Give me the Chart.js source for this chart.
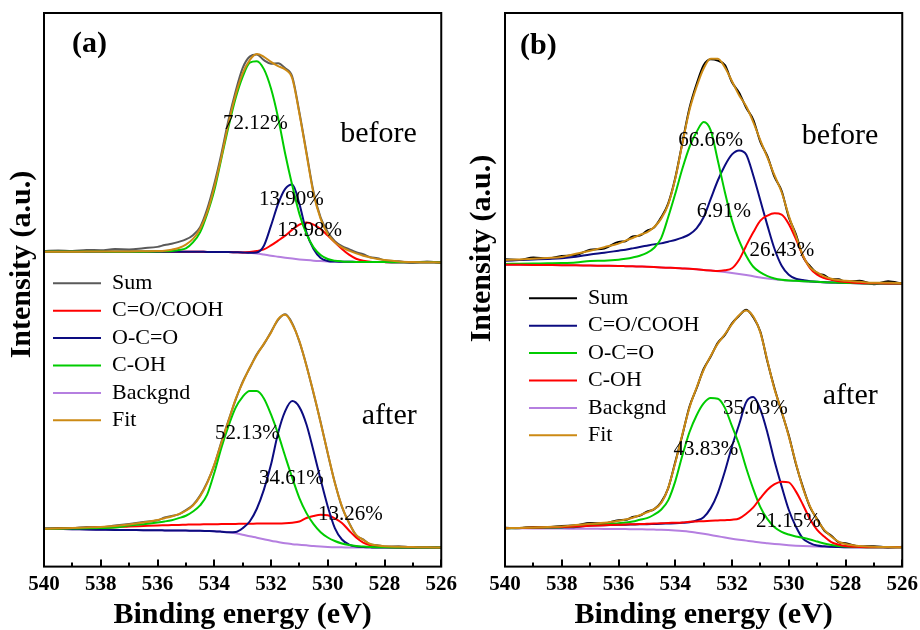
<!DOCTYPE html>
<html>
<head>
<meta charset="utf-8">
<script src="https://cdn.jsdelivr.net/npm/chart.js@4.4.1/dist/chart.umd.min.js"></script>
<style>
html,body{margin:0;padding:0;background:#fff;overflow:hidden;}
#wrap{position:relative;width:920px;height:630px;background:#fff;overflow:hidden;}
.panel{position:absolute;top:0;height:630px;}
#pa{left:0;width:464px;} #pb{left:460px;width:465px;}
</style>
</head>
<body>
<div id="wrap">
  <div class="panel" id="pa"><canvas id="ca" width="464" height="630"></canvas></div>
  <div class="panel" id="pb"><canvas id="cb" width="465" height="630"></canvas></div>
</div>
<script>
// ---------------- data (binding energy in eV, intensity in a.u.) ----------------
const energy = [540, 539.5, 539, 538.5, 538, 537.5, 537, 536.5, 536, 535.75, 535.5, 535.25, 535, 534.75, 534.5, 534.25, 534, 533.75, 533.5, 533.25, 533, 532.75, 532.5, 532.25, 532, 531.75, 531.5, 531.25, 531, 530.75, 530.5, 530.25, 530, 529.75, 529.5, 529.25, 529, 528.75, 528.5, 528.25, 528, 527.5, 527, 526.5, 526];
const xTickValues = [540, 538, 536, 534, 532, 530, 528, 526];
const seriesNames = ['Sum', 'C=O/COOH', 'O-C=O', 'C-OH', 'Backgnd', 'Fit'];

// panel (a), before
const aBeforeSum  = [38.5, 39.3, 38.8, 39.8, 39.5, 40.6, 40.3, 41.5, 42.8, 44.6, 45.9, 47.8, 50.2, 54.5, 62.5, 80.5, 105.5, 135.5, 169.0, 197.5, 221.0, 232.5, 234.5, 229.0, 225.5, 226.0, 221.0, 212.5, 177.0, 137.0, 97.5, 72.0, 57.5, 48.5, 43.5, 40.5, 37.5, 35.5, 32.5, 31.5, 29.5, 28.5, 27.0, 28.3, 27.0];
const aBeforeCOOH = [38.2, 38.2, 38.1, 38.1, 38.1, 38.0, 38.0, 38.0, 38.0, 38.0, 38.0, 37.9, 37.9, 37.9, 37.9, 37.8, 37.8, 37.7, 37.6, 37.4, 37.2, 37.7, 38.7, 40.3, 44.3, 49.0, 54.0, 60.0, 65.0, 67.0, 65.0, 60.7, 54.0, 47.3, 40.7, 35.0, 31.0, 29.0, 28.0, 27.7, 27.6, 27.5, 27.5, 27.4, 27.3];
const aBeforeOCO  = [38.2, 38.2, 38.1, 38.1, 38.1, 38.0, 38.0, 38.0, 38.0, 38.0, 38.0, 37.9, 37.9, 37.9, 37.9, 37.8, 37.8, 37.7, 37.6, 37.4, 37.2, 36.9, 37.3, 44.0, 64.0, 85.7, 100.7, 105.0, 85.7, 57.3, 40.7, 31.7, 28.7, 28.1, 28.0, 27.9, 27.8, 27.7, 27.7, 27.6, 27.6, 27.5, 27.5, 27.4, 27.3];
const aBeforeCOH  = [38.2, 38.2, 38.1, 38.1, 38.1, 38.0, 38.0, 38.0, 38.1, 38.4, 38.8, 39.7, 41.3, 47.3, 57.3, 75.7, 99.0, 130.7, 162.3, 190.7, 212.3, 226.5, 228.0, 220.0, 200.7, 171.7, 135.7, 104.0, 75.7, 55.7, 42.3, 34.7, 30.7, 29.0, 28.3, 28.0, 27.8, 27.7, 27.7, 27.6, 27.6, 27.5, 27.5, 27.4, 27.3];
const aBeforeBg   = [38.2, 38.2, 38.1, 38.1, 38.1, 38.0, 38.0, 38.0, 38.0, 38.0, 38.0, 37.9, 37.9, 37.9, 37.9, 37.8, 37.8, 37.7, 37.6, 37.4, 37.2, 36.8, 36.3, 35.2, 34.0, 33.0, 32.0, 31.1, 30.3, 29.6, 29.0, 28.6, 28.3, 28.1, 28.0, 27.9, 27.8, 27.7, 27.7, 27.6, 27.6, 27.5, 27.5, 27.4, 27.3];
const aBeforeFit  = [38.0, 38.0, 38.0, 38.1, 38.1, 38.2, 38.3, 38.5, 38.7, 39.0, 40.0, 41.7, 45.0, 50.7, 60.7, 77.3, 102.3, 132.3, 165.7, 194.0, 215.7, 229.0, 235.0, 232.3, 227.3, 223.0, 219.7, 210.7, 175.7, 135.7, 95.7, 70.7, 55.7, 47.3, 42.3, 39.0, 36.3, 34.0, 32.3, 30.7, 29.7, 28.3, 27.7, 27.5, 27.3];

// panel (a), after
const aAfterSum  = [37.9, 38.5, 38.3, 39.6, 39.2, 40.9, 42.6, 44.5, 46.2, 48.9, 50.6, 52.0, 56.4, 61.5, 70.8, 84.0, 101.0, 124.2, 145.5, 166.0, 184.2, 198.0, 211.7, 221.8, 234.0, 246.0, 251.5, 242.5, 224.3, 200.6, 172.6, 143.9, 112.8, 83.9, 59.5, 43.9, 31.2, 27.2, 22.1, 21.4, 20.0, 20.3, 19.2, 19.6, 18.8];
const aAfterCOOH = [37.7, 38.0, 38.3, 38.6, 38.9, 39.3, 40.0, 40.5, 41.0, 41.2, 41.4, 41.6, 41.8, 42.0, 42.1, 42.2, 42.3, 42.4, 42.5, 42.6, 42.7, 42.8, 42.9, 43.0, 43.0, 43.0, 43.2, 43.8, 45.0, 48.5, 50.5, 51.7, 51.3, 48.0, 43.5, 36.0, 29.0, 24.0, 21.2, 20.0, 19.5, 19.1, 19.0, 19.0, 19.0];
const aAfterOCO  = [37.7, 37.5, 37.3, 37.0, 36.8, 36.6, 36.5, 36.3, 36.2, 36.1, 36.0, 36.0, 35.9, 35.8, 35.7, 35.5, 35.3, 34.8, 34.2, 34.5, 38.3, 45.0, 57.7, 76.7, 101.7, 133.3, 155.0, 165.0, 159.0, 141.7, 115.0, 86.7, 60.0, 38.3, 27.0, 22.0, 20.0, 19.5, 19.2, 19.0, 19.0, 19.0, 19.0, 19.0, 19.0];
const aAfterCOH  = [37.7, 37.8, 38.0, 38.2, 38.5, 39.0, 41.0, 42.3, 44.0, 45.0, 46.3, 48.3, 50.7, 55.0, 61.0, 71.7, 93.3, 118.3, 140.0, 158.3, 169.3, 175.0, 175.0, 167.7, 151.7, 132.3, 110.0, 88.3, 68.3, 53.3, 42.3, 34.3, 29.0, 25.5, 23.0, 21.5, 20.5, 20.0, 19.6, 19.3, 19.2, 19.1, 19.0, 19.0, 19.0];
const aAfterBg   = [37.7, 37.5, 37.3, 37.0, 36.8, 36.6, 36.5, 36.3, 36.2, 36.1, 36.0, 36.0, 35.9, 35.8, 35.7, 35.5, 35.3, 34.8, 34.2, 33.2, 31.8, 30.2, 28.8, 27.3, 25.8, 24.5, 23.2, 22.4, 21.8, 21.2, 20.5, 20.0, 19.6, 19.3, 19.2, 19.1, 19.0, 19.0, 19.0, 19.0, 19.0, 19.0, 19.0, 19.0, 19.0];
const aAfterFit  = [37.7, 38.0, 38.5, 39.0, 39.5, 40.5, 42.0, 44.0, 46.5, 48.3, 50.0, 52.3, 55.7, 61.0, 70.0, 83.3, 101.7, 123.3, 145.0, 166.7, 183.3, 198.3, 211.0, 222.3, 233.3, 246.7, 251.0, 241.7, 225.0, 200.0, 173.3, 143.3, 113.3, 83.3, 60.0, 43.3, 31.7, 26.7, 22.5, 21.0, 20.3, 19.8, 19.5, 19.2, 19.0];

// panel (b), before
const bBeforeSum  = [30.5, 29.8, 32.3, 31.2, 33.8, 34.6, 40.0, 41.2, 47.8, 48.5, 53.2, 54.0, 58.8, 62.0, 72.0, 86.0, 111.5, 146.5, 181.0, 205.0, 224.0, 230.0, 228.5, 224.0, 207.0, 196.5, 181.5, 169.5, 147.5, 133.0, 112.5, 98.5, 72.5, 55.5, 33.0, 23.5, 16.5, 14.5, 10.5, 10.5, 8.0, 9.0, 5.5, 8.5, 6.0];
const bBeforeCOOH = [29.0, 29.6, 30.2, 30.8, 31.5, 33.0, 35.3, 37.0, 39.0, 40.0, 41.3, 42.7, 44.0, 45.3, 46.3, 48.0, 49.7, 52.0, 55.3, 61.3, 72.3, 90.7, 109.0, 124.0, 135.0, 139.0, 135.0, 114.0, 89.0, 64.0, 40.7, 24.0, 15.0, 11.0, 9.7, 8.6, 8.0, 7.6, 7.3, 7.1, 6.9, 6.5, 6.3, 6.3, 6.3];
const bBeforeOCO  = [25.8, 26.0, 26.2, 26.4, 26.6, 27.2, 28.7, 29.0, 30.0, 31.0, 32.3, 34.0, 36.7, 41.7, 51.3, 72.3, 95.7, 120.7, 142.3, 157.3, 167.3, 159.0, 129.0, 97.3, 69.0, 49.0, 34.0, 23.0, 17.3, 13.7, 11.3, 10.0, 9.3, 9.0, 8.6, 8.3, 8.0, 7.6, 7.3, 7.1, 6.9, 6.5, 6.3, 6.3, 6.3];
const bBeforeCOH  = [25.0, 24.9, 24.8, 24.7, 24.6, 24.4, 24.2, 24.0, 23.8, 23.6, 23.4, 23.2, 23.0, 22.7, 22.3, 22.0, 21.7, 21.3, 20.9, 20.4, 19.8, 19.2, 18.7, 19.5, 21.5, 30.0, 44.0, 57.3, 69.0, 74.0, 76.3, 75.0, 65.7, 50.7, 34.0, 21.7, 15.0, 11.7, 10.0, 8.5, 7.8, 6.8, 6.5, 6.3, 6.3];
const bBeforeBg   = [25.0, 24.9, 24.8, 24.7, 24.6, 24.4, 24.2, 24.0, 23.8, 23.6, 23.4, 23.2, 23.0, 22.7, 22.3, 22.0, 21.7, 21.3, 20.9, 20.4, 19.8, 19.2, 18.5, 17.7, 16.8, 15.8, 14.7, 13.5, 12.3, 11.3, 10.4, 9.7, 9.2, 8.8, 8.4, 8.1, 7.8, 7.5, 7.2, 7.0, 6.8, 6.5, 6.3, 6.3, 6.3];
const bBeforeFit  = [29.7, 30.3, 31.0, 31.8, 32.8, 36.0, 39.0, 42.5, 46.0, 49.0, 51.7, 54.7, 57.3, 62.3, 70.7, 85.0, 110.7, 145.7, 179.0, 202.3, 220.7, 230.3, 230.3, 221.7, 208.0, 194.0, 183.0, 167.3, 149.0, 131.7, 114.0, 97.3, 74.0, 54.0, 34.0, 22.3, 17.3, 13.3, 11.0, 9.7, 9.0, 8.0, 7.0, 7.0, 6.5];

// panel (b), after
const bAfterSum  = [38.8, 38.2, 39.6, 39.1, 40.6, 41.2, 43.4, 43.2, 46.3, 46.6, 49.4, 50.8, 54.8, 57.0, 64.0, 78.0, 104.2, 131.0, 159.4, 177.6, 197.0, 209.4, 223.2, 231.0, 242.5, 250.0, 256.0, 248.6, 234.2, 204.2, 177.6, 154.2, 130.9, 102.6, 79.2, 59.3, 47.5, 36.0, 30.8, 24.4, 23.2, 20.0, 20.4, 19.0, 19.8];
const bAfterCOOH = [38.3, 38.5, 38.7, 38.9, 39.1, 39.6, 41.0, 41.3, 41.7, 41.8, 42.0, 42.2, 42.3, 42.5, 42.7, 43.0, 43.3, 43.7, 44.3, 46.0, 49.3, 58.3, 73.3, 95.0, 120.0, 141.7, 164.0, 169.0, 156.7, 133.3, 105.0, 80.0, 56.7, 40.0, 28.0, 23.5, 21.0, 20.2, 19.8, 19.5, 19.4, 19.3, 19.3, 19.3, 19.3];
const bAfterOCO  = [38.3, 38.5, 38.8, 39.0, 39.3, 40.0, 41.3, 42.0, 43.3, 44.0, 45.0, 46.7, 48.3, 51.7, 56.7, 66.0, 85.0, 110.7, 134.0, 150.7, 162.7, 168.0, 167.3, 158.3, 140.0, 121.7, 98.3, 77.3, 59.3, 47.3, 39.3, 34.7, 32.0, 30.0, 28.7, 27.0, 25.0, 23.0, 21.5, 20.5, 20.0, 19.5, 19.3, 19.3, 19.3];
const bAfterCOH  = [38.3, 38.6, 38.9, 39.2, 39.5, 40.0, 40.7, 41.2, 41.7, 42.0, 42.2, 42.4, 42.7, 43.0, 43.2, 43.5, 43.7, 44.0, 44.7, 45.0, 45.3, 45.7, 46.0, 46.3, 46.7, 48.0, 52.7, 59.0, 68.3, 76.7, 82.3, 84.7, 84.0, 75.0, 61.7, 47.3, 36.7, 30.0, 24.5, 22.0, 20.5, 19.6, 19.3, 19.3, 19.3];
const bAfterBg   = [38.3, 38.2, 38.1, 38.0, 37.9, 37.8, 37.7, 37.6, 37.5, 37.4, 37.3, 37.2, 37.1, 36.9, 36.7, 36.4, 36.0, 35.5, 34.8, 33.8, 32.7, 31.5, 30.3, 29.0, 27.8, 26.8, 25.9, 25.0, 24.0, 23.3, 22.6, 22.0, 21.4, 20.9, 20.5, 20.2, 20.0, 19.8, 19.6, 19.5, 19.4, 19.3, 19.3, 19.3, 19.3];
const bAfterFit  = [38.3, 38.6, 39.0, 39.5, 40.0, 41.5, 42.7, 43.7, 45.7, 47.0, 48.7, 51.3, 54.0, 57.3, 63.3, 78.3, 103.3, 131.7, 158.3, 178.3, 196.0, 210.0, 222.3, 231.7, 241.7, 250.7, 255.3, 249.3, 233.3, 205.0, 176.7, 155.0, 130.0, 103.3, 78.3, 60.0, 46.7, 36.7, 30.0, 25.0, 22.5, 20.5, 19.8, 19.5, 19.3];

// text labels inside the plots (anchor: energy, intensity level on the before/after axis)
const aNoteText   = ['(a)', 'before', '72.12%', '13.90%', '13.98%', 'after', '52.13%', '34.61%', '13.26%'];
const aNoteEnergy = [539.01, 529.56, 533.69, 532.42, 531.78, 528.8, 533.97, 532.42, 530.34];
const aNoteLevel  = [237, 147.3, 160, 85, 53.3, 141.7, 127.3, 82.3, 46.7];
const aNoteAxis   = ['yB', 'yB', 'yB', 'yB', 'yB', 'yA', 'yA', 'yA', 'yA'];
const bNoteText   = ['(b)', 'before', '66.66%', '6.91%', '26.43%', 'after', '35.03%', '43.83%', '21.15%'];
const bNoteEnergy = [539.47, 529.54, 533.89, 533.24, 531.38, 528.8, 532.32, 534.06, 531.15];
const bNoteLevel  = [235.5, 145, 143.3, 73, 34, 162.3, 151.7, 111, 39];
const bNoteAxis   = ['yB', 'yB', 'yB', 'yB', 'yB', 'yA', 'yA', 'yA', 'yA'];

// ---------------- styling ----------------
const SERIF = "'Liberation Serif', 'Times New Roman', serif";
Chart.defaults.font.family = SERIF;
Chart.defaults.color = '#000';
const colorsA = ['#5a5a5a', '#ff0000', '#0c0c80', '#00cc00', '#b57fe0', '#cc8a14'];
const colorsB = ['#000000', '#0c0c80', '#00cc00', '#ff0000', '#b57fe0', '#cc8a14'];
const drawOrder = [5, 3, 2, 1, 4, 0];

function buildSets(group, axis, arrays, colors) {
  return arrays.map((arr, k) => ({
    label: seriesNames[k],
    group: group,
    xAxisID: 'x',
    yAxisID: axis,
    data: energy.map((e, i) => ({ x: e, y: arr[i] })),
    borderColor: colors[k],
    backgroundColor: colors[k],
    borderWidth: 2,
    pointRadius: 0,
    pointHoverRadius: 0,
    fill: false,
    cubicInterpolationMode: 'monotone',
    order: drawOrder[k]
  }));
}

function buildNotes(texts, energies, levels, axes) {
  return texts.map((t, i) => ({ text: t, x: energies[i], y: levels[i], axis: axes[i] }));
}

// move the chartArea legend to its place inside the plot
const legendPlace = {
  id: 'legendPlace',
  afterLayout(chart, args, opts) {
    const lg = chart.legend;
    if (!lg) return;
    const ca = chart.chartArea;
    const h = lg.height, w = lg.width;
    lg.left = ca.left + opts.dx;
    lg.right = lg.left + w;
    lg.top = ca.top + opts.dy;
    lg.bottom = lg.top + h;
  }
};

// texts inside plot
const textMarks = {
  id: 'textMarks',
  afterDatasetsDraw(chart, args, opts) {
    const ctx = chart.ctx;
    const xs = chart.scales.x;
    ctx.save();
    ctx.fillStyle = '#000';
    ctx.textAlign = 'left';
    ctx.textBaseline = 'alphabetic';
    for (const m of opts.items) {
      const ys = chart.scales[m.axis];
      if (m.text.startsWith('(')) ctx.font = 'bold 30px ' + SERIF;
      else if (m.text.endsWith('%')) ctx.font = '21px ' + SERIF;
      else ctx.font = '30px ' + SERIF;
      ctx.fillText(m.text, xs.getPixelForValue(m.x), ys.getPixelForValue(m.y));
    }
    ctx.restore();
  }
};

// box frame + inward ticks on the energy axis
const frameTicks = {
  id: 'frameTicks',
  afterDatasetsDraw(chart) {
    const ctx = chart.ctx;
    const ca = chart.chartArea;
    const xs = chart.scales.x;
    ctx.save();
    ctx.strokeStyle = '#000';
    ctx.lineWidth = 2;
    ctx.strokeRect(ca.left, ca.top, ca.right - ca.left, ca.bottom - ca.top);
    ctx.beginPath();
    for (let v = xs.min; v <= xs.max; v += 1) {
      const px = Math.round(xs.getPixelForValue(v));
      const len = (v % 2 === 0) ? 7 : 4;
      ctx.moveTo(px, ca.bottom);
      ctx.lineTo(px, ca.bottom - len);
    }
    ctx.stroke();
    ctx.restore();
  }
};

function makePanel(canvasId, sets, notes, cfg) {
  return new Chart(document.getElementById(canvasId), {
    type: 'line',
    data: { datasets: sets },
    options: {
      responsive: false,
      animation: false,
      devicePixelRatio: 1,
      events: [],
      layout: { padding: { left: 0, right: 0, top: 13, bottom: 0 } },
      scales: {
        x: {
          type: 'linear', position: 'bottom', min: 526, max: 540, reverse: true,
          afterBuildTicks: (scale) => { scale.ticks = xTickValues.map(v => ({ value: v })); },
          ticks: { color: '#000', padding: 7, maxRotation: 0, autoSkip: false,
                   font: { family: SERIF, size: 21, weight: 'bold', lineHeight: 1 } },
          grid: { display: false, drawTicks: false },
          border: { display: false },
          title: { display: true, text: 'Binding energy (eV)', color: '#000',
                   font: { family: SERIF, size: 30, weight: 'bold', lineHeight: 0.88 },
                   padding: { top: 0, bottom: 2 } }
        },
        yt: {
          type: 'linear', position: 'left', stack: 'T', stackWeight: cfg.titleWeight, weight: 4,
          ticks: { display: false },
          grid: { display: false, drawTicks: false },
          border: { display: false },
          title: { display: true, text: 'Intensity (a.u.)', color: '#000',
                   font: { family: SERIF, size: 30, weight: 'bold', lineHeight: 1.2 },
                   padding: { top: 4, bottom: cfg.titlePadBottom } }
        },
        ypad: { type: 'linear', position: 'left', stack: 'T', stackWeight: 1 - cfg.titleWeight, weight: 3, display: false },
        yB: { type: 'linear', position: 'left', stack: 'S', stackWeight: 1, weight: 2, display: false, min: 0, max: 276 },
        yA: { type: 'linear', position: 'left', stack: 'S', stackWeight: 1, weight: 1, display: false, min: 0, max: 276 }
      },
      plugins: {
        tooltip: { enabled: false },
        legend: {
          display: true,
          position: 'chartArea',
          align: 'start',
          labels: {
            usePointStyle: true,
            pointStyle: 'line',
            pointStyleWidth: 48,
            padding: 5.4,
            color: '#000',
            font: { family: SERIF, size: 22 },
            filter: (item, data) => data.datasets[item.datasetIndex].group === 'after',
            sort: (a, b) => a.datasetIndex - b.datasetIndex
          }
        },
        legendPlace: { dx: cfg.legendDx, dy: cfg.legendDy },
        textMarks: { items: notes }
      }
    },
    plugins: [legendPlace, frameTicks, textMarks]
  });
}

const setsA = buildSets('before', 'yB', [aBeforeSum, aBeforeCOOH, aBeforeOCO, aBeforeCOH, aBeforeBg, aBeforeFit], colorsA)
  .concat(buildSets('after', 'yA', [aAfterSum, aAfterCOOH, aAfterOCO, aAfterCOH, aAfterBg, aAfterFit], colorsA));
const setsB = buildSets('before', 'yB', [bBeforeSum, bBeforeCOOH, bBeforeOCO, bBeforeCOH, bBeforeBg, bBeforeFit], colorsB)
  .concat(buildSets('after', 'yA', [bAfterSum, bAfterCOOH, bAfterOCO, bAfterCOH, bAfterBg, bAfterFit], colorsB));

makePanel('ca', setsA, buildNotes(aNoteText, aNoteEnergy, aNoteLevel, aNoteAxis),
  { titleWeight: 0.909, titlePadBottom: 4, legendDx: 3.6, legendDy: 253.9 });
makePanel('cb', setsB, buildNotes(bNoteText, bNoteEnergy, bNoteLevel, bNoteAxis),
  { titleWeight: 0.851, titlePadBottom: 5, legendDx: 18.6, legendDy: 268.9 });
</script>
</body>
</html>
